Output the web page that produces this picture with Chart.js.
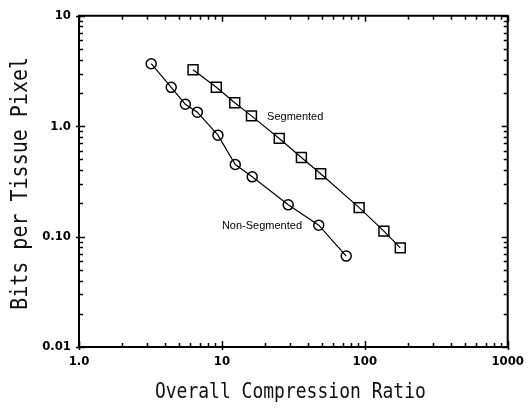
<!DOCTYPE html>
<html><head><meta charset="utf-8">
<script src="https://cdn.jsdelivr.net/npm/chart.js@4"></script>
<style>html,body{margin:0;padding:0;background:#fff}#wrap{width:531px;height:411px;position:relative}</style>
</head><body><div id="wrap"><canvas id="c" width="531" height="411"></canvas></div>
<script>
// ---- data ----
const nonSegX = [3.2, 4.42, 5.55, 6.73, 9.38, 12.4, 16.3, 29.1, 47.6, 74.1];
const nonSegY = [3.68, 2.25, 1.58, 1.34, 0.83, 0.45, 0.348, 0.194, 0.127, 0.0666];
const segX = [6.28, 9.14, 12.3, 16.1, 25.2, 36.0, 49.1, 91.3, 136, 177];
const segY = [3.25, 2.25, 1.63, 1.24, 0.775, 0.52, 0.371, 0.183, 0.112, 0.079];
const xTickValues = [1,2,3,4,5,6,7,8,9,10,20,30,40,50,60,70,80,90,100,200,300,400,500,600,700,800,900,1000];
const yTickValues = [0.01,0.02,0.03,0.04,0.05,0.06,0.07,0.08,0.09,0.1,0.2,0.3,0.4,0.5,0.6,0.7,0.8,0.9,1,2,3,4,5,6,7,8,9,10];
const xMajor = [1, 10, 100, 1000];
const yMajor = [0.01, 0.1, 1, 10];
const xTickLabels = ['1.0', '10', '100', '1000'];
const yTickLabels = ['0.01', '0.10', '1.0', '10'];
const seriesNames = ['Non-Segmented', 'Segmented'];
const seriesLabelX = [10.0, 20.7];
const seriesLabelY = [0.125, 1.21];
const xTitle = 'Overall Compression Ratio';
const yTitle = 'Bits per Tissue Pixel';

function isMajor(list, v){ return list.some(m => Math.abs(Math.log10(m) - Math.log10(v)) < 1e-6); }
function majorLabel(list, labels, v){
  for (let i = 0; i < list.length; i++) if (Math.abs(Math.log10(list[i]) - Math.log10(v)) < 1e-6) return labels[i];
  return '';
}

const framePlugin = {
  id: 'frame',
  afterDatasetsDraw(chart){
    const ctx = chart.ctx, a = chart.chartArea, xs = chart.scales.x, ys = chart.scales.y;
    ctx.save();
    ctx.strokeStyle = '#000';
    ctx.lineWidth = 2;
    ctx.beginPath();
    ctx.moveTo(a.left, a.top); ctx.lineTo(a.right, a.top); ctx.lineTo(a.right, a.bottom);
    ctx.lineTo(a.left, a.bottom); ctx.closePath();
    ctx.stroke();
    ctx.lineWidth = 1.5;
    ctx.beginPath();
    xTickValues.forEach(v => {
      const p = Math.round(xs.getPixelForValue(v)) + 0.5;
      const maj = isMajor(xMajor, v);
      const len = maj ? 6 : 4;
      ctx.moveTo(p, a.bottom + (maj ? 3 : 0)); ctx.lineTo(p, a.bottom - len);
      ctx.moveTo(p, a.top); ctx.lineTo(p, a.top + len);
    });
    yTickValues.forEach(v => {
      const p = Math.round(ys.getPixelForValue(v)) + 0.5;
      const maj = isMajor(yMajor, v);
      const len = maj ? 6 : 4;
      ctx.moveTo(a.left - (maj ? 3 : 0), p); ctx.lineTo(a.left + len, p);
      ctx.moveTo(a.right, p); ctx.lineTo(a.right - len, p);
    });
    ctx.stroke();
    // series labels
    ctx.fillStyle = '#000';
    ctx.font = '11px "Liberation Sans", Arial, sans-serif';
    ctx.textAlign = 'left';
    ctx.textBaseline = 'middle';
    seriesNames.forEach((n, i) => {
      ctx.fillText(n, xs.getPixelForValue(seriesLabelX[i]), ys.getPixelForValue(seriesLabelY[i]));
    });
    // axis titles
    ctx.fillStyle = '#111';
    ctx.textAlign = 'center';
    ctx.save();
    ctx.translate((a.left + a.right) / 2 - 3, 393);
    ctx.scale(1, 1.15);
    ctx.font = '18px "DejaVu Sans Mono", monospace';
    ctx.fillText(xTitle, 0, 0);
    ctx.restore();
    ctx.save();
    ctx.translate(21, (a.top + a.bottom) / 2 + 2);
    ctx.rotate(-Math.PI / 2);
    ctx.scale(1, 1.15);
    ctx.font = '20px "DejaVu Sans Mono", monospace';
    ctx.fillText(yTitle, 0, 0);
    ctx.restore();
    ctx.restore();
  }
};

const tickFont = { family: '"Liberation Sans Narrow", "DejaVu Sans Condensed", Arial, sans-serif', size: 13, weight: 'bold' };

new Chart(document.getElementById('c'), {
  type: 'line',
  data: {
    datasets: [
      {
        label: seriesNames[0],
        data: nonSegX.map((x, i) => ({ x, y: nonSegY[i] })),
        borderColor: '#000', borderWidth: 1.2,
        pointStyle: 'circle', pointRadius: 5, pointBorderWidth: 1.5,
        pointBorderColor: '#000', pointBackgroundColor: 'rgba(0,0,0,0)',
        tension: 0, fill: false
      },
      {
        label: seriesNames[1],
        data: segX.map((x, i) => ({ x, y: segY[i] })),
        borderColor: '#000', borderWidth: 1.2,
        pointStyle: 'rect', pointRadius: 7, pointBorderWidth: 1.5,
        pointBorderColor: '#000', pointBackgroundColor: 'rgba(0,0,0,0)',
        tension: 0, fill: false
      }
    ]
  },
  options: {
    responsive: false,
    devicePixelRatio: 1,
    animation: false,
    layout: { padding: { top: 13, right: 21, left: 0, bottom: 0 } },
    plugins: { legend: { display: false }, tooltip: { enabled: false } },
    scales: {
      x: {
        type: 'logarithmic', min: 1, max: 1000,
        grid: { display: false, drawTicks: false },
        border: { display: false },
        afterBuildTicks: s => { s.ticks = xTickValues.map(v => ({ value: v })); },
        afterFit: s => { s.height = 64; },
        ticks: {
          autoSkip: false, maxRotation: 0, minRotation: 0, padding: 7,
          color: '#000', font: tickFont,
          callback: v => majorLabel(xMajor, xTickLabels, v)
        }
      },
      y: {
        type: 'logarithmic', min: 0.01, max: 10,
        grid: { display: false, drawTicks: false },
        border: { display: false },
        afterBuildTicks: s => { s.ticks = yTickValues.map(v => ({ value: v })); },
        afterFit: s => { s.width = 79; },
        ticks: {
          autoSkip: false, padding: 8,
          color: '#000', font: tickFont,
          callback: v => majorLabel(yMajor, yTickLabels, v)
        }
      }
    }
  },
  plugins: [framePlugin]
});
</script>
</body></html>
